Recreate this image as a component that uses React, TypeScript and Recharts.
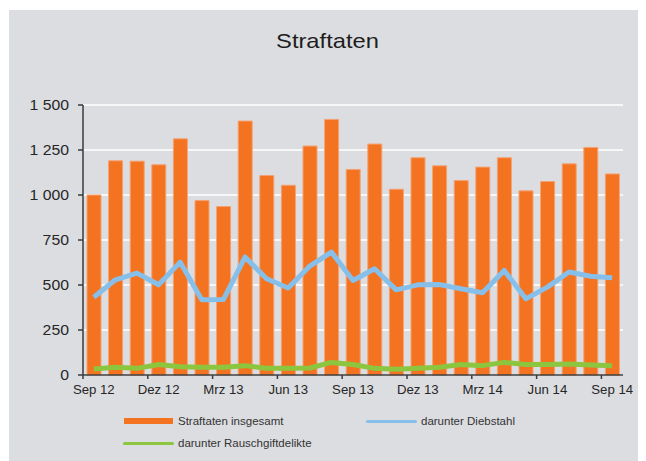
import React from 'react';
import { ComposedChart, Bar, Line, XAxis, YAxis, CartesianGrid, Legend } from 'recharts';

const months = ['Sep 12','Okt 12','Nov 12','Dez 12','Jan 13','Feb 13','Mrz 13','Apr 13','Mai 13','Jun 13','Jul 13','Aug 13','Sep 13','Okt 13','Nov 13','Dez 13','Jan 14','Feb 14','Mrz 14','Apr 14','Mai 14','Jun 14','Jul 14','Aug 14','Sep 14'];
const straftaten = [1000,1190,1188,1168,1312,969,936,1411,1108,1054,1272,1420,1142,1283,1032,1207,1162,1080,1155,1207,1023,1075,1173,1264,1117];
const diebstahl = [432,529,566,501,627,418,419,655,535,483,605,683,525,590,473,501,503,479,457,581,423,488,572,549,540];
const rauschgift = [33,43,37,58,46,43,43,52,37,37,39,70,58,37,32,37,43,58,52,70,58,58,61,56,52];
const yTicks = [0, 250, 500, 750, 1000, 1250, 1500];
const seriesNames = ['Straftaten insgesamt', 'darunter Diebstahl', 'darunter Rauschgiftdelikte'];

const data = months.map((m, i) => ({
  month: m,
  total: straftaten[i],
  theft: diebstahl[i],
  drugs: rauschgift[i],
}));

const W = 637;
const H = 451;
const M = { top: 95, right: 23, bottom: 0, left: 0 };
const Y_W = 74;
const PLOT_W = W - Y_W - M.right;
const BAND = PLOT_W / months.length;
const AXIS = '#3a3a3a';
const TEXT = '#262626';
const FONT = '"Liberation Sans", Arial, sans-serif';

const fmt = (v: number) => {
  const s = String(v);
  return s.length > 3 ? s.slice(0, s.length - 3) + ' ' + s.slice(-3) : s;
};

const XTick = (props: any) => {
  const { x, y, payload } = props;
  const tx = x - BAND / 2;
  return (
    <g>
      <line x1={tx} x2={tx} y1={y} y2={y + 4} stroke={AXIS} strokeWidth={1.5} />
      <g transform={`translate(${x},${y + 18.5}) scale(1.1,1)`}>
        <text x={0} y={0} textAnchor="middle" fontSize={12} fill={TEXT} fontFamily={FONT}>
          {payload.value}
        </text>
      </g>
    </g>
  );
};

const YTick = (props: any) => {
  const { x, y, payload } = props;
  return (
    <g transform={`translate(${x},${y}) scale(1.13,1)`}>
      <text x={0} y={0} dy="0.355em" textAnchor="end" fontSize={14} fill={TEXT} fontFamily={FONT}>
        {fmt(payload.value)}
      </text>
    </g>
  );
};

const legendPos = [
  { x: 115, y: 16, tx: 169 },
  { x: 357, y: 16, tx: 412 },
  { x: 114, y: 38, tx: 169 },
];

const LegendContent = (props: any) => {
  const payload = props.payload || [];
  return (
    <div style={{ position: 'relative', width: W, height: 50, fontFamily: FONT }}>
      {payload.map((p: any, i: number) => {
        const pos = legendPos[i] || legendPos[0];
        const isBar = p.type === 'rect' || i === 0;
        return (
          <React.Fragment key={i}>
            {isBar ? (
              <div style={{ position: 'absolute', left: pos.x, top: pos.y - 3, width: 49, height: 6, background: p.color }} />
            ) : (
              <div style={{ position: 'absolute', left: pos.x, top: pos.y - 1.5, width: 51, height: 3, borderRadius: 2, background: p.color }} />
            )}
            <div style={{ position: 'absolute', left: pos.tx, top: pos.y - 8, fontSize: 11.5, lineHeight: '16px', color: '#333', whiteSpace: 'nowrap' }}>
              {p.value}
            </div>
          </React.Fragment>
        );
      })}
    </div>
  );
};

export default function App() {
  return (
    <div style={{ position: 'relative', width: 638, height: 453 }}>
      <div style={{ position: 'absolute', left: 1, top: 2, width: W, height: H, background: '#dcdde0', fontFamily: FONT }}>
        <div style={{ position: 'absolute', left: 0, top: 20, width: W, textAlign: 'center', fontSize: 21, lineHeight: '21px', color: '#1e1e1e', transform: 'scaleX(1.13)' }}>
          Straftaten
        </div>
        <ComposedChart width={W} height={H} data={data} margin={M}>
          <CartesianGrid vertical={false} stroke="#ffffff" strokeWidth={1.5} />
          <XAxis
            dataKey="month"
            interval={2}
            height={H - M.top - 270}
            tickSize={0}
            tickMargin={0}
            tickLine={false}
            axisLine={{ stroke: AXIS, strokeWidth: 1.5 }}
            tick={<XTick />}
          />
          <YAxis
            width={Y_W}
            domain={[0, 1500]}
            ticks={yTicks}
            interval={0}
            tickSize={5}
            tickMargin={9}
            tickLine={{ stroke: AXIS, strokeWidth: 1.5 }}
            axisLine={{ stroke: AXIS, strokeWidth: 1.5 }}
            tick={<YTick />}
          />
          <Bar dataKey="total" name={seriesNames[0]} fill="#f47321" stroke="#f5a273" strokeWidth={1} barSize={14} isAnimationActive={false} />
          <Line dataKey="theft" name={seriesNames[1]} type="linear" stroke="#86bfe9" strokeWidth={5} dot={false} strokeLinejoin="round" isAnimationActive={false} />
          <Line dataKey="drugs" name={seriesNames[2]} type="linear" stroke="#8cc63f" strokeWidth={5} dot={false} strokeLinejoin="round" isAnimationActive={false} />
          <Legend
            verticalAlign="middle"
            align="center"
            layout="horizontal"
            wrapperStyle={{ left: 0, top: 395, width: W, height: 50 }}
            content={<LegendContent />}
          />
        </ComposedChart>
      </div>
    </div>
  );
}
